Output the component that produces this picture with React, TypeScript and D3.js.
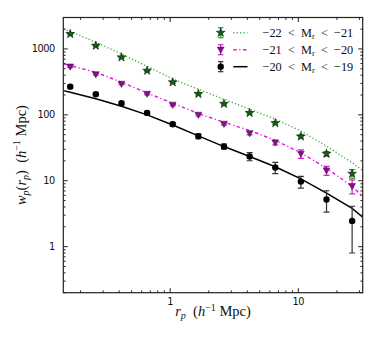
import React, { useEffect, useRef } from 'react';
import * as d3 from 'd3';

// projected separations (h^-1 Mpc)
const rp = [0.166, 0.263, 0.417, 0.661, 1.047, 1.66, 2.63, 4.17, 6.61, 10.47, 16.6, 26.3];

// measured wp for the three luminosity bins
const wpBright = [1690, 1122, 747, 469, 312, 208, 147, 107, 75, 47, 25.7, 12.8];
const errBright = [45, 30, 20, 13, 9, 7, 5, 4, 3, 2.5, 2, 1.9];
const wpMid = [540, 412, 295, 208, 142, 100, 73, 52.6, 38, 25.7, 14.3, 8.3];
const errMid = [18, 13, 9, 7, 5, 4, 3, 3, 3, 3.8, 2.2, 2];
const wpFaint = [268, 205, 150, 107, 72, 47.4, 33.1, 23.4, 15.9, 9.7, 5.2, 2.45];
const errFaint = [12, 9, 8, 6, 5, 4, 3, 3.3, 3.1, 1.95, 1.85, 1.65];

// model curves
const rpModel = [0.147, 0.166, 0.263, 0.417, 0.661, 1.047, 1.66, 2.63, 4.17, 6.61, 10.47, 16.6, 26.3, 31.8];
const modelBright = [2000, 1850, 1260, 840, 545, 350, 245, 172, 122, 86, 57, 33.5, 18.8, 14.3];
const modelMid = [593, 559, 442, 312, 215, 150, 105, 77, 58, 41, 26.5, 15.5, 8.2, 5.8];
const modelFaint = [233, 220, 175, 135, 100, 70, 48, 33, 23.3, 16.3, 10.7, 6.5, 3.8, 2.8];

const legendLabels = [
  ['\u221222', '\u221221'],
  ['\u221221', '\u221220'],
  ['\u221220', '\u221219'],
];

const xTicks = [1, 10];
const yTicks = [1, 10, 100, 1000];

function App() {
  const svgRef = useRef(null);

  useEffect(() => {
    const svg = d3.select(svgRef.current);
    svg.selectAll('*').remove();

    const width = 374;
    const height = 345;
    const margin = { top: 17.5, right: 11.3, bottom: 52.3, left: 63.3 };
    const x0 = margin.left, x1 = width - margin.right;
    const y0 = margin.top, y1 = height - margin.bottom;

    const xScale = d3.scaleLog().domain([0.1466, 31.8]).range([x0, x1]);
    const yScale = d3.scaleLog().domain([0.2, 3000]).range([y1, y0]);

    svg.append('defs').append('clipPath').attr('id', 'plotclip')
      .append('rect').attr('x', x0).attr('y', y0).attr('width', x1 - x0).attr('height', y1 - y0);

    const series = [
      { wp: wpBright, err: errBright, model: modelBright, line: '#3dae3d', dash: '1.2,2.2', fill: '#0b650b', bar: '#2e9a2e', marker: 'star' },
      { wp: wpMid, err: errMid, model: modelMid, line: '#e21be2', dash: '3.5,2.5,1.2,2.5', fill: '#8e0a8e', bar: '#d81ad8', marker: 'tri' },
      { wp: wpFaint, err: errFaint, model: modelFaint, line: '#000', dash: null, fill: '#000', bar: '#333', marker: 'circle' },
    ];

    const drawMarker = (g, kind, fill) => {
      if (kind === 'star') {
        g.append('path').attr('d', d3.symbol(d3.symbolStar, 24)()).attr('fill', fill)
          .attr('stroke', '#111').attr('stroke-width', 0.6);
      } else if (kind === 'tri') {
        g.append('path').attr('d', 'M-3.4,-2.6L3.4,-2.6L0,3.6Z').attr('fill', fill)
          .attr('stroke', '#222').attr('stroke-width', 0.5);
      } else {
        g.append('circle').attr('r', 3.2).attr('fill', fill);
      }
    };

    const line = d3.line().x(d => xScale(d[0])).y(d => yScale(d[1]));
    const plot = svg.append('g').attr('clip-path', 'url(#plotclip)');

    series.forEach(s => {
      plot.append('path')
        .attr('d', line(rpModel.map((r, i) => [r, s.model[i]])))
        .attr('fill', 'none')
        .attr('stroke', s.line)
        .attr('stroke-width', s.dash ? 1.4 : 1.5)
        .attr('stroke-dasharray', s.dash);
    });

    series.forEach(s => {
      rp.forEach((r, i) => {
        const cx = xScale(r);
        const top = yScale(s.wp[i] + s.err[i]);
        const bot = yScale(Math.max(s.wp[i] - s.err[i], 0.21));
        const eb = plot.append('g').attr('stroke', s.bar).attr('stroke-width', 1.2);
        eb.append('line').attr('x1', cx).attr('x2', cx).attr('y1', top).attr('y2', bot);
        eb.append('line').attr('x1', cx - 3).attr('x2', cx + 3).attr('y1', top).attr('y2', top);
        eb.append('line').attr('x1', cx - 3).attr('x2', cx + 3).attr('y1', bot).attr('y2', bot);
        const g = plot.append('g').attr('transform', `translate(${cx},${yScale(s.wp[i])})`);
        drawMarker(g, s.marker, s.fill);
      });
    });

    // frame and ticks (inward, all sides)
    const axes = svg.append('g').attr('stroke', '#222').attr('stroke-width', 1);
    axes.append('rect').attr('x', x0).attr('y', y0).attr('width', x1 - x0).attr('height', y1 - y0)
      .attr('fill', 'none').attr('stroke-width', 1.2);

    const xMinor = [];
    [0.1, 1, 10].forEach(d => { for (let k = 2; k <= 9; k++) { const v = d * k; if (v > 0.1466 && v < 31.8) xMinor.push(v); } });
    const yMinor = [];
    [0.1, 1, 10, 100, 1000].forEach(d => { for (let k = 2; k <= 9; k++) { const v = d * k; if (v >= 0.2 && v < 3000) yMinor.push(v); } });

    xTicks.concat(xMinor).forEach(v => {
      const len = xTicks.includes(v) ? 4.5 : 2.3;
      const px = xScale(v);
      axes.append('line').attr('x1', px).attr('x2', px).attr('y1', y1).attr('y2', y1 - len);
      axes.append('line').attr('x1', px).attr('x2', px).attr('y1', y0).attr('y2', y0 + len);
    });
    yTicks.concat(yMinor).forEach(v => {
      const len = yTicks.includes(v) ? 4.5 : 2.3;
      const py = yScale(v);
      axes.append('line').attr('x1', x0).attr('x2', x0 + len).attr('y1', py).attr('y2', py);
      axes.append('line').attr('x1', x1).attr('x2', x1 - len).attr('y1', py).attr('y2', py);
    });

    const tickFont = { family: 'DejaVu Sans', size: '9.8px' };
    yTicks.forEach(v => {
      svg.append('text').attr('x', x0 - 8.5).attr('y', yScale(v)).attr('dy', '0.36em')
        .attr('text-anchor', 'end').attr('font-family', tickFont.family).attr('font-size', tickFont.size)
        .attr('letter-spacing', '-0.5px').attr('fill', '#111').text(String(v));
    });
    xTicks.forEach(v => {
      svg.append('text').attr('x', xScale(v)).attr('y', y1 + 11.8)
        .attr('text-anchor', 'middle').attr('font-family', tickFont.family).attr('font-size', tickFont.size)
        .attr('letter-spacing', '-0.5px').attr('fill', '#111').text(String(v));
    });

    // axis labels
    const serif = 'Liberation Serif';
    const xl = svg.append('text').attr('x', (x0 + x1) / 2).attr('y', 316).attr('text-anchor', 'middle')
      .attr('font-family', serif).attr('font-size', '14.5px').attr('fill', '#111');
    xl.append('tspan').attr('font-style', 'italic').text('r');
    xl.append('tspan').attr('font-style', 'italic').attr('font-size', '10px').attr('dy', 3).text('p');
    xl.append('tspan').attr('dy', -3).text('\u2002(');
    xl.append('tspan').attr('font-style', 'italic').text('h');
    xl.append('tspan').attr('font-size', '10px').attr('dy', -5.5).text('\u22121');
    xl.append('tspan').attr('dy', 5.5).text(' Mpc)');

    const yl = svg.append('text').attr('transform', `translate(25.5,${(y0 + y1) / 2}) rotate(-90)`)
      .attr('text-anchor', 'middle').attr('font-family', serif).attr('font-size', '14.5px').attr('fill', '#111');
    yl.append('tspan').attr('font-style', 'italic').text('w');
    yl.append('tspan').attr('font-style', 'italic').attr('font-size', '10px').attr('dy', 3).text('p');
    yl.append('tspan').attr('dy', -3).text('(');
    yl.append('tspan').attr('font-style', 'italic').text('r');
    yl.append('tspan').attr('font-style', 'italic').attr('font-size', '10px').attr('dy', 3).text('p');
    yl.append('tspan').attr('dy', -3).text(')\u2002(');
    yl.append('tspan').attr('font-style', 'italic').text('h');
    yl.append('tspan').attr('font-size', '10px').attr('dy', -5.5).text('\u22121');
    yl.append('tspan').attr('dy', 5.5).text(' Mpc)');

    // legend
    series.forEach((s, i) => {
      const ly = 32.7 + i * 17;
      const eb = svg.append('g').attr('stroke', s.bar).attr('stroke-width', 1.2);
      eb.append('line').attr('x1', 220.7).attr('x2', 220.7).attr('y1', ly - 5).attr('y2', ly + 5);
      eb.append('line').attr('x1', 218).attr('x2', 223.4).attr('y1', ly - 5).attr('y2', ly - 5);
      eb.append('line').attr('x1', 218).attr('x2', 223.4).attr('y1', ly + 5).attr('y2', ly + 5);
      drawMarker(svg.append('g').attr('transform', `translate(220.7,${ly})`), s.marker, s.fill);
      svg.append('line').attr('x1', 233.3).attr('x2', 247.5).attr('y1', ly).attr('y2', ly)
        .attr('stroke', s.line).attr('stroke-width', s.dash ? 1.4 : 1.5).attr('stroke-dasharray', s.dash);
      const t = svg.append('text').attr('x', 262.5).attr('y', ly + 4.2).attr('font-family', serif)
        .attr('font-size', '12.3px').attr('fill', '#111');
      t.append('tspan').text(`${legendLabels[i][0]}\u2002<\u2002M`);
      t.append('tspan').attr('font-size', '8.5px').attr('dy', 2.5).text('r');
      t.append('tspan').attr('dy', -2.5).text(`\u2002<\u2002${legendLabels[i][1]}`);
    });
  }, []);

  return (
    <svg ref={svgRef} width={374} height={345}
      style={{ position: 'absolute', left: 0, top: 0, background: '#fff' }}></svg>
  );
}

export default App;
